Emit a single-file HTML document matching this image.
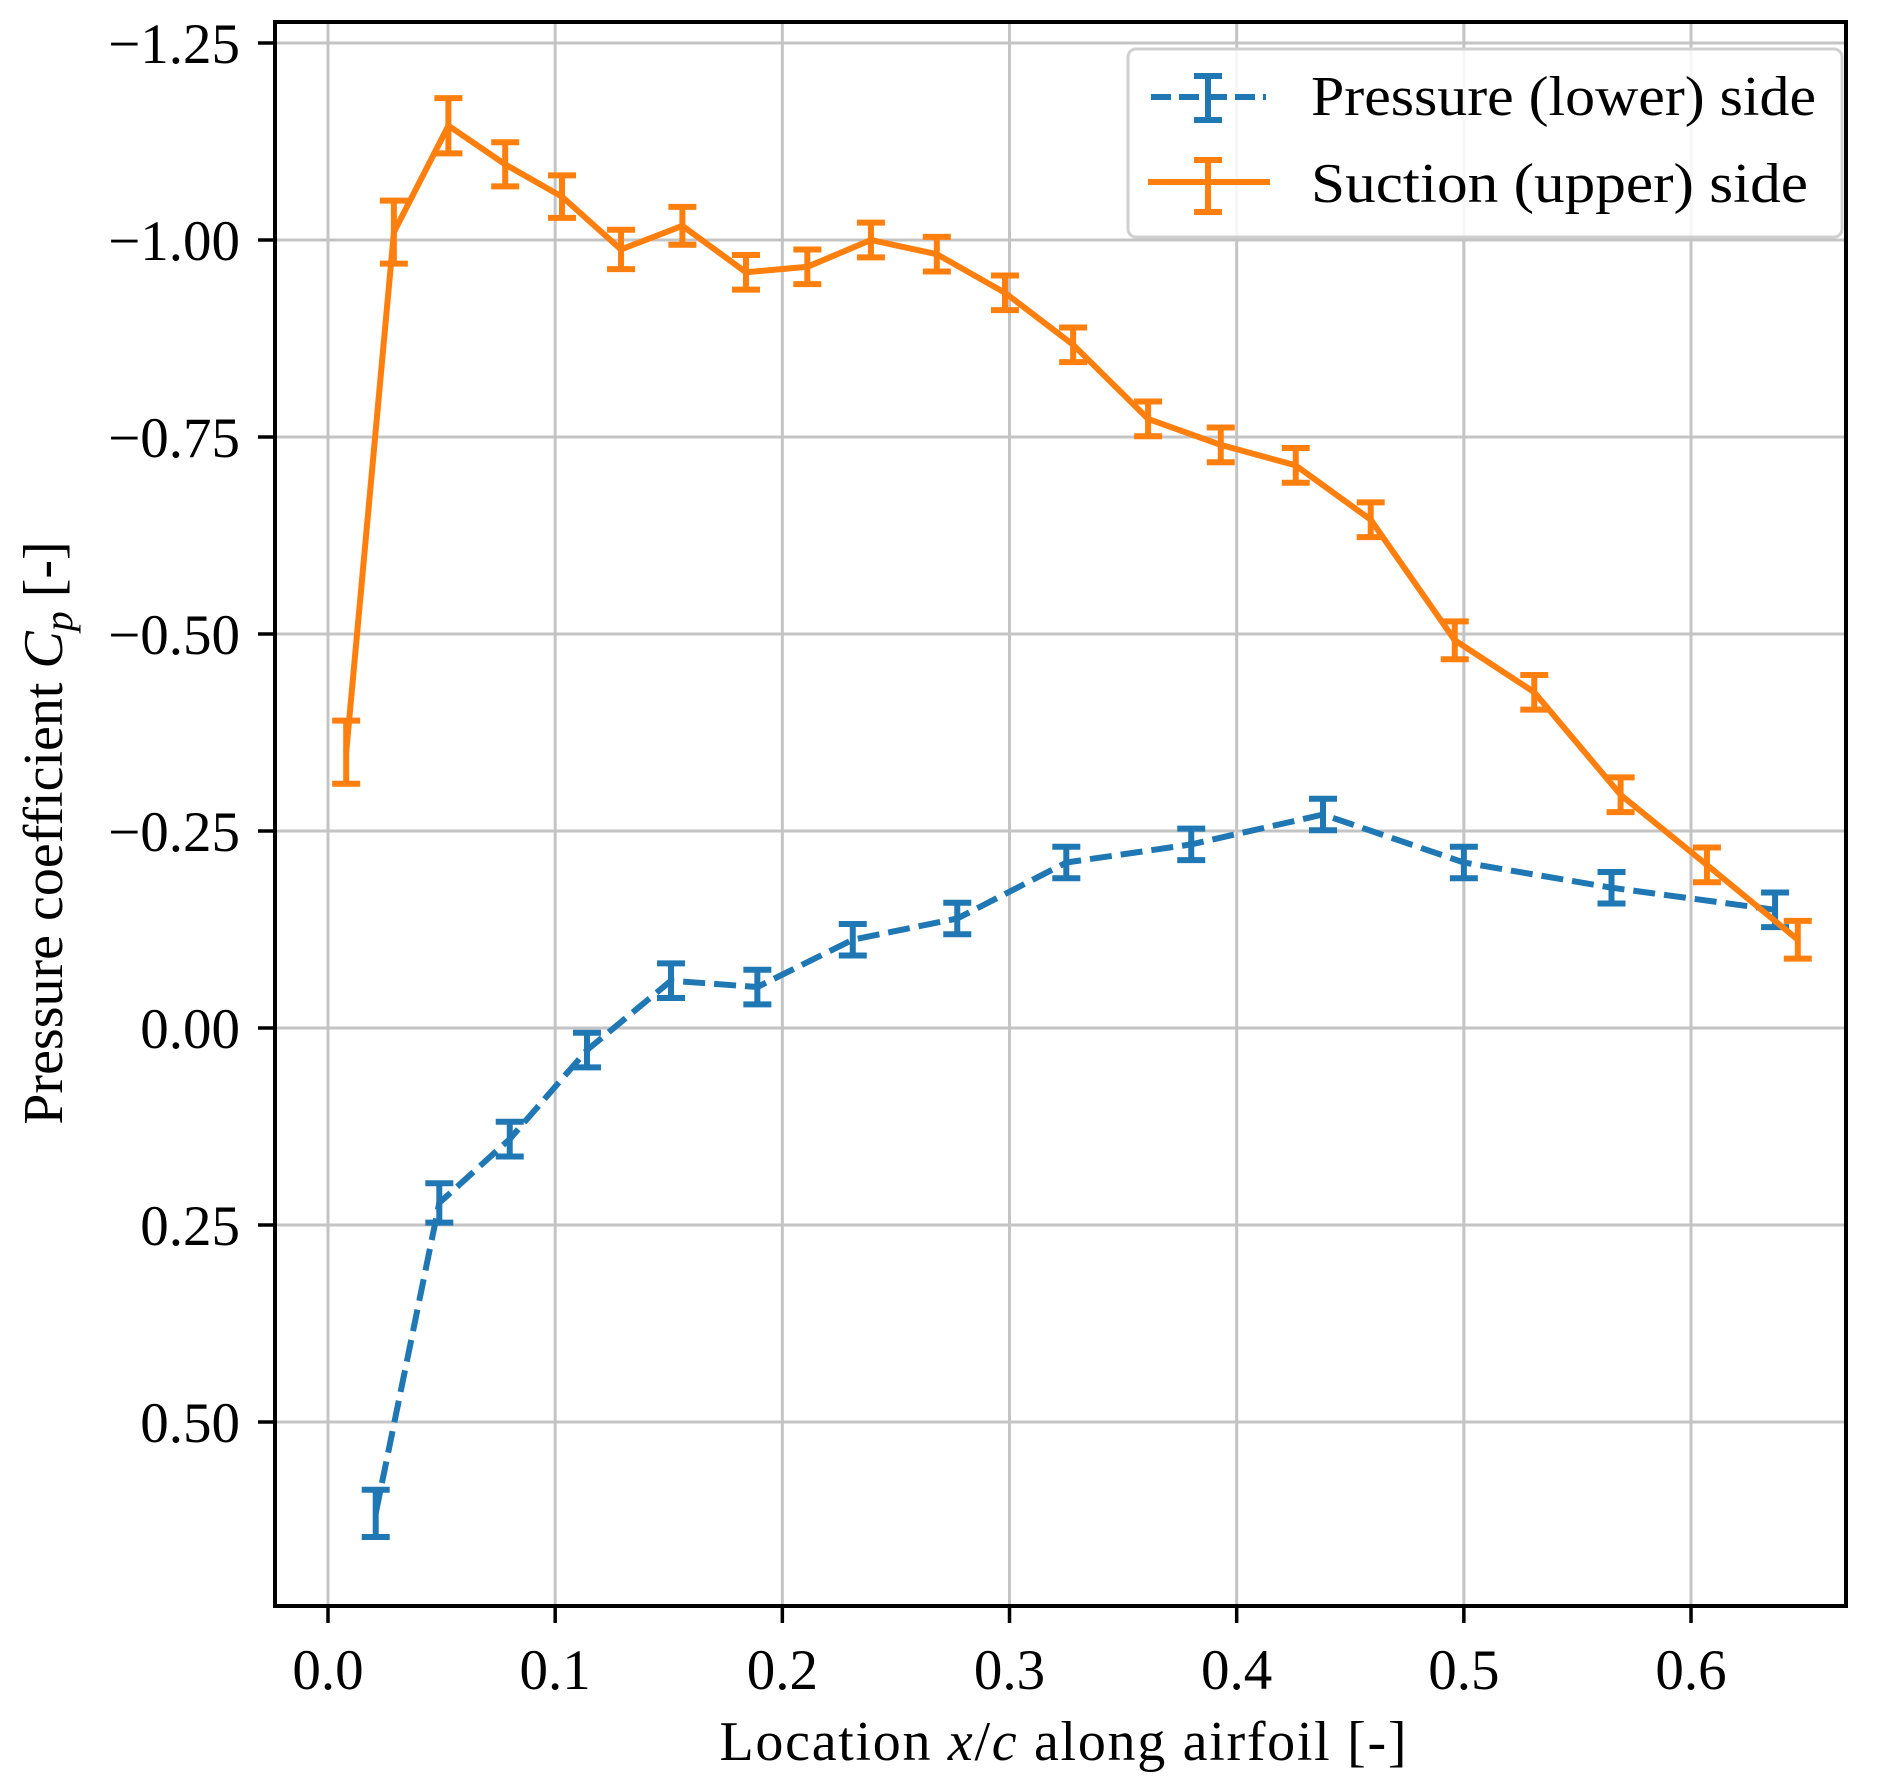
<!DOCTYPE html>
<html><head><meta charset="utf-8"><style>
html,body{margin:0;padding:0;background:#fff;}
svg{display:block;}
text{font-family:"Liberation Serif",serif;fill:#000;}
</style></head><body>
<svg id="chart" width="1892" height="1786" viewBox="0 0 1892 1786" xmlns="http://www.w3.org/2000/svg">
<g id="grid"></g>
<g id="series"></g>
<rect x="275" y="22" width="1571" height="1584" fill="none" stroke="#000" stroke-width="4"/>
<g id="axes"></g>
<text x="1063" y="1760" font-size="56" text-anchor="middle" textLength="687">Location <tspan font-style="italic">x</tspan>/<tspan font-style="italic">c</tspan> along airfoil [-]</text>
<text transform="translate(62,833) rotate(-90)" font-size="56" text-anchor="middle">Pressure coefficient <tspan font-style="italic">C</tspan><tspan font-style="italic" font-size="40" dy="10">p</tspan><tspan dy="-10"> [-]</tspan></text>
<g>
<rect x="1128" y="49" width="714" height="188" rx="8" fill="#fff" fill-opacity="0.85" stroke="#d0d0d0" stroke-width="3"/>
<g>
<line x1="1151" y1="97" x2="1266" y2="97" stroke="#1f77b4" stroke-width="6" stroke-dasharray="20,8"/>
<line x1="1208" y1="76" x2="1208" y2="120" stroke="#1f77b4" stroke-width="6"/>
<line x1="1194" y1="76" x2="1222" y2="76" stroke="#1f77b4" stroke-width="6"/>
<line x1="1194" y1="120" x2="1222" y2="120" stroke="#1f77b4" stroke-width="6"/>
<text x="1311" y="115" font-size="56" textLength="505" lengthAdjust="spacingAndGlyphs">Pressure (lower) side</text>
</g>
<g>
<line x1="1148" y1="182" x2="1270" y2="182" stroke="#ff7f0e" stroke-width="6"/>
<line x1="1208" y1="160" x2="1208" y2="212" stroke="#ff7f0e" stroke-width="6"/>
<line x1="1194" y1="160" x2="1222" y2="160" stroke="#ff7f0e" stroke-width="6"/>
<line x1="1194" y1="212" x2="1222" y2="212" stroke="#ff7f0e" stroke-width="6"/>
<text x="1311" y="202" font-size="56" textLength="497" lengthAdjust="spacingAndGlyphs">Suction (upper) side</text>
</g>
</g>
</svg>
<script>
const xTicks = [0.0, 0.1, 0.2, 0.3, 0.4, 0.5, 0.6];
const xTickLabels = ["0.0","0.1","0.2","0.3","0.4","0.5","0.6"];
const yTicks = [-1.25, -1.0, -0.75, -0.5, -0.25, 0.0, 0.25, 0.5];
const yTickLabels = ["\u22121.25","\u22121.00","\u22120.75","\u22120.50","\u22120.25","0.00","0.25","0.50"];
const suctionX = [0.008,0.029,0.053,0.078,0.103,0.129,0.156,0.184,0.211,0.239,0.268,0.298,0.328,0.361,0.393,0.426,0.459,0.496,0.531,0.569,0.607,0.647];
const suctionY = [-0.35,-1.01,-1.145,-1.096,-1.055,-0.988,-1.018,-0.959,-0.966,-1.0,-0.982,-0.933,-0.867,-0.773,-0.740,-0.714,-0.645,-0.492,-0.426,-0.296,-0.207,-0.112];
const suctionErr = [0.04,0.04,0.035,0.028,0.027,0.025,0.024,0.022,0.022,0.022,0.022,0.022,0.022,0.022,0.022,0.022,0.022,0.024,0.022,0.022,0.022,0.024];
const pressureX = [0.021,0.049,0.080,0.114,0.151,0.189,0.231,0.277,0.325,0.380,0.438,0.500,0.565,0.637];
const pressureY = [0.616,0.222,0.141,0.028,-0.060,-0.052,-0.112,-0.139,-0.210,-0.233,-0.271,-0.210,-0.178,-0.150];
const pressureErr = [0.03,0.025,0.022,0.022,0.022,0.022,0.02,0.02,0.02,0.02,0.02,0.02,0.02,0.022];

const NS = "http://www.w3.org/2000/svg";
const L = 275, R = 1846, T = 22, B = 1606;
function sx(v){ return 328 + v * 2271.7; }
function sy(v){ return 240 + (v + 1) * 788; }
function mk(tag, attrs, parent){
  const e = document.createElementNS(NS, tag);
  for (const k in attrs) e.setAttribute(k, attrs[k]);
  parent.appendChild(e);
  return e;
}
const grid = document.getElementById('grid');
const axes = document.getElementById('axes');
const series = document.getElementById('series');

xTicks.forEach((v, i) => {
  const x = sx(v);
  const g = mk('line', {x1:x, y1:T, x2:x, y2:B, stroke:'#c4c4c4', 'stroke-width':3}, grid);
  
  
  const t = mk('line', {x1:x, y1:B, x2:x, y2:B+17, stroke:'#000', 'stroke-width':3.5}, axes);
  
  
  const tx = mk('text', {x:x, y:1689, 'font-size':57, 'text-anchor':'middle'}, axes);
  tx.textContent = xTickLabels[i];
  
  
});
yTicks.forEach((v, i) => {
  const y = sy(v);
  const g = mk('line', {x1:L, y1:y, x2:R, y2:y, stroke:'#c4c4c4', 'stroke-width':3}, grid);
  
  
  const t = mk('line', {x1:L-17, y1:y, x2:L, y2:y, stroke:'#000', 'stroke-width':3.5}, axes);
  
  
  const tx = mk('text', {x:240, y:y+20, 'font-size':57, 'text-anchor':'end'}, axes);
  tx.textContent = yTickLabels[i];
  
  
});

function drawSeries(xs, ys, es, color, dash, name){
  const g = mk('g', {}, series);
  
  
  const pts = xs.map((x, i) => sx(x).toFixed(1) + ',' + sy(ys[i]).toFixed(1)).join(' ');
  const attrs = {points:pts, fill:'none', stroke:color, 'stroke-width':6, 'stroke-linejoin':'round'};
  if (dash) attrs['stroke-dasharray'] = dash;
  const line = mk('polyline', attrs, g);
  
  
  xs.forEach((x, i) => {
    const px = sx(x), y1 = sy(ys[i] - es[i]), y2 = sy(ys[i] + es[i]);
    const eb = mk('g', {stroke:color, 'stroke-width':6}, g);
    
    
    mk('line', {x1:px, y1:y1, x2:px, y2:y2}, eb);
    mk('line', {x1:px-14, y1:y1, x2:px+14, y2:y1}, eb);
    mk('line', {x1:px-14, y1:y2, x2:px+14, y2:y2}, eb);
  });
}
drawSeries(pressureX, pressureY, pressureErr, '#1f77b4', '22,9', 'pressure');
drawSeries(suctionX, suctionY, suctionErr, '#ff7f0e', null, 'suction');
</script>
</body></html>
